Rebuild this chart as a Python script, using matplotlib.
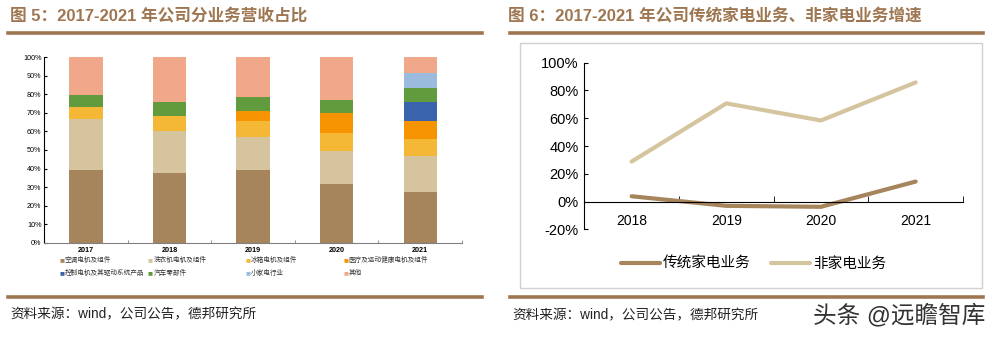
import numpy as np
import matplotlib; matplotlib.use('Agg')
import matplotlib.pyplot as plt
from matplotlib.lines import Line2D

plt.rcParams['font.family'] = ['Liberation Sans', 'Noto Sans CJK SC', 'DejaVu Sans']

# fig 5: revenue share by segment (%)
years = ['2017', '2018', '2019', '2020', '2021']
seg_names = ['空调电机及组件', '洗衣机电机及组件', '冰箱电机及组件', '医疗及运动健康电机及组件',
             '控制电机及其驱动系统产品', '汽车零部件', '小家电行业', '其他']
ac_motor = [39.2, 37.8, 39.2, 31.7, 27.3]
washer_motor = [27.3, 22.5, 18.0, 17.9, 19.5]
fridge_motor = [6.5, 8.2, 8.6, 9.4, 9.1]
medical_motor = [0, 0, 5.4, 11.1, 9.9]
control_motor = [0, 0, 0, 0, 9.9]
auto_parts = [6.7, 7.2, 7.2, 6.9, 7.9]
small_appl = [0, 0, 0, 0, 7.8]
others = [20.3, 24.3, 21.6, 23.0, 8.6]

# fig 6: growth (%)
g_years = ['2018', '2019', '2020', '2021']
traditional = [3.8, -3.1, -3.8, 14.4]
non_home = [28.8, 70.7, 58.4, 85.8]

seg_colors = ['#a6845c', '#d5c49d', '#f4b736', '#f59300', '#3a63ad', '#629a3e', '#9abade', '#f1a88a']
brown = '#9e7752'

fig = plt.figure(figsize=(9.96, 3.38), dpi=100)
W, H = 996, 338
def fx(x): return x / W
def fy(y): return 1 - y / H

# headers / rules
fig.text(fx(10), fy(16), '图 5：2017-2021 年公司分业务营收占比', color=brown, fontsize=12,
         fontweight='bold', va='center')
fig.text(fx(508), fy(16), '图 6：2017-2021 年公司传统家电业务、非家电业务增速', color=brown, fontsize=12,
         fontweight='bold', va='center')
for x0, x1 in [(8, 482), (510, 983)]:
    for y in (33, 297):
        fig.add_artist(Line2D([fx(x0), fx(x1)], [fy(y), fy(y)], color=brown, lw=2.6))
fig.text(fx(10), fy(314), '资料来源：wind，公司公告，德邦研究所', fontsize=9.8, va='center', color='#222222')
fig.text(fx(512), fy(315), '资料来源：wind，公司公告，德邦研究所', fontsize=9.8, va='center', color='#222222')
fig.text(fx(985), fy(316), '头条 @远瞻智库', fontsize=17, va='center', ha='right', color='#333333')

# gray box around right chart
fig.add_artist(plt.Rectangle((fx(520), fy(287.7)), fx(462), 245 / H, fill=False, ec='#d0d0d0', lw=1))

# ---- left: stacked bars
ax1 = fig.add_axes([fx(44.3), fy(242.7), fx(417.7), 185.4 / H])
x = np.arange(len(years))
series = [ac_motor, washer_motor, fridge_motor, medical_motor, control_motor, auto_parts, small_appl, others]
bottom = np.zeros(len(years))
for vals, c in zip(series, seg_colors):
    ax1.bar(x, vals, 0.4, bottom=bottom, color=c, lw=0)
    bottom += np.array(vals)
ax1.set_xlim(-0.5, 4.5); ax1.set_ylim(0, 100)
ax1.set_yticks(range(0, 101, 10))
ax1.set_yticklabels([f'{v}%' for v in range(0, 101, 10)], fontsize=5.2)
ax1.set_xticks(x); ax1.set_xticklabels(years, fontsize=5.2, fontweight='bold')
ax1.set_xticks(np.arange(0.5, 5, 1), minor=True)
ax1.tick_params(axis='x', which='major', length=0, pad=3)
ax1.tick_params(axis='x', which='minor', direction='in', length=2, color='#808080')
ax1.tick_params(axis='y', direction='in', length=2, pad=2)
for s in ('top', 'right'):
    ax1.spines[s].set_visible(False)
ax1.spines['bottom'].set_color('#808080')
ax1.spines['left'].set_linewidth(0.8)

# manual legend layout like the source
colx = [59, 148, 245, 343]
rowy = [260, 273]
for i, (lab, c) in enumerate(zip(seg_names, seg_colors)):
    xx, yy = colx[i % 4], rowy[i // 4]
    fig.text(fx(xx), fy(yy), '■', color=c, fontsize=3.8, va='center', family='DejaVu Sans')
    fig.text(fx(xx + 5.5), fy(yy), lab, fontsize=4.75, va='center', color='#333333')

# ---- right: growth lines
ax2 = fig.add_axes([fx(584.3), fy(229.3), fx(378.7), 166.6 / H])
gx = np.arange(len(g_years))
ax2.plot(gx, np.array(traditional) / 100, color='#a6845c', lw=3, solid_capstyle='round', label='传统家电业务')
ax2.plot(gx, np.array(non_home) / 100, color='#d5c59f', lw=3, solid_capstyle='round', label='非家电业务')
ax2.set_xlim(-0.5, 3.5); ax2.set_ylim(-0.2, 1.0)
ax2.set_yticks(np.arange(-0.2, 1.01, 0.2))
ax2.set_yticklabels([f'{v}%' for v in range(-20, 101, 20)], fontsize=10.5)
ax2.set_xticks(gx); ax2.set_xticklabels(g_years, fontsize=10.5)
ax2.set_xticks(np.arange(-0.5, 3.6, 1), minor=True)
ax2.spines['bottom'].set_position(('data', 0))
for s in ('top', 'right'):
    ax2.spines[s].set_visible(False)
ax2.tick_params(axis='x', which='major', length=0, pad=9)
ax2.tick_params(axis='x', which='minor', direction='in', length=4)
ax2.tick_params(axis='y', direction='in', length=3, pad=4)

fig.legend(loc='center', bbox_to_anchor=(fx(753.5), fy(263.7)), ncol=2, frameon=False,
           handlelength=2.7, handletextpad=0.2, columnspacing=1.4,
           prop={'family': ['Noto Sans CJK SC'], 'size': 10.5})
for t in fig.legends[0].get_lines():
    t.set_linewidth(3)

fig.savefig('out.png', dpi=100)
